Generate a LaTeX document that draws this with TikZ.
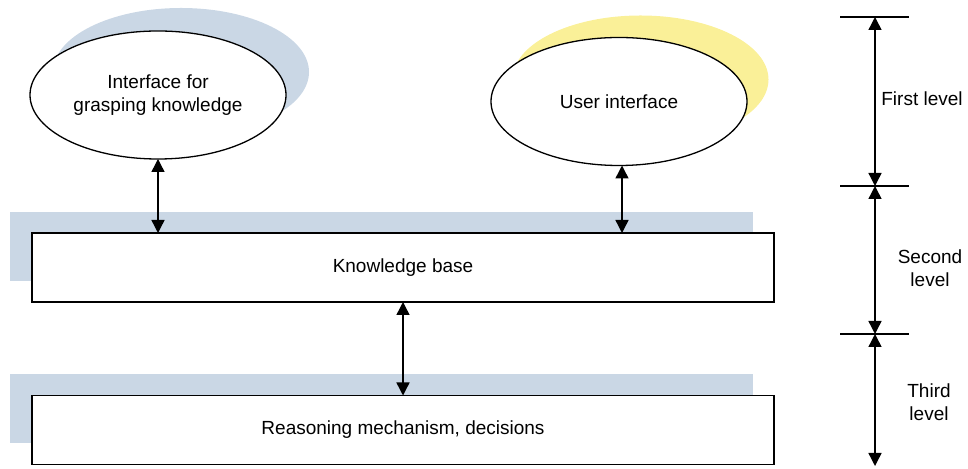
\documentclass[tikz,border=0pt]{standalone}
\usepackage{fontspec}
\setmainfont{Liberation Sans}
\usetikzlibrary{shapes.geometric,arrows.meta}
\definecolor{shadeblue}{RGB}{202,215,229}
\definecolor{shadeyellow}{RGB}{250,240,152}
\tikzset{
  iface/.style={ellipse,draw=black,fill=white,line width=0.65pt,minimum width=128pt,minimum height=64pt,align=center},
  ishade/.style={ellipse,minimum width=128pt,minimum height=64pt},
  block/.style={rectangle,draw=black,fill=white,line width=0.9pt,minimum width=371pt,minimum height=34.5pt},
  bshade/.style={rectangle,fill=shadeblue,minimum width=371.5pt,minimum height=34.5pt},
  link/.style={{Triangle[length=6.5pt,width=6.5pt]}-{Triangle[length=6.5pt,width=6.5pt]},line width=0.7pt},
  levelmark/.style={line width=0.6pt},
  levellabel/.style={align=center}
}
\begin{document}
\begin{tikzpicture}[y=0.5pt, x=0.5pt, yscale=-1, inner sep=0pt, outer sep=0pt, font=\fontsize{9.5pt}{11.5pt}\selectfont]
\useasboundingbox (0,0) rectangle (968,469);
% shadows
\node[ishade,fill=shadeblue] (e1s) at (181,72) {};
\node[ishade,fill=shadeyellow] (e2s) at (640.5,79.5) {};
\node[bshade] (kbs) at (381.5,246.5) {};
\node[bshade] (rms) at (381.5,408.5) {};
% first level
\node[iface] (e1) at (158,95) {Interface for\\grasping knowledge};
\node[iface] (e2) at (619,101.5) {User interface};
% second and third level
\node[block] (kb) at (403,267.5) {Knowledge base};
\node[block] (rm) at (403,430) {Reasoning mechanism, decisions};
\draw[link] (e1.south) -- (e1.south |- kb.north);
\draw[link] ([xshift=1.5pt]e2.south) -- ([xshift=1.5pt]e2.south |- kb.north);
\draw[link] (kb.south) -- (rm.north);
% level scale
\foreach \y/\n in {17/l1,186/l2,334/l3} {
  \coordinate (\n) at (875,\y);
  \draw[levelmark] ([xshift=-17.5pt]\n) -- ([xshift=17pt]\n);
}
\coordinate (l4) at (875,466);
\draw[link] (l1) -- (l2);
\draw[link] (l2) -- (l3);
\draw[link] (l3) -- (l4);
\node[levellabel] (lv1) at (922,99) {First level};
\node[levellabel] (lv2) at (930,268) {Second\\level};
\node[levellabel] (lv3) at (929,402) {Third\\level};
\end{tikzpicture}
\end{document}
